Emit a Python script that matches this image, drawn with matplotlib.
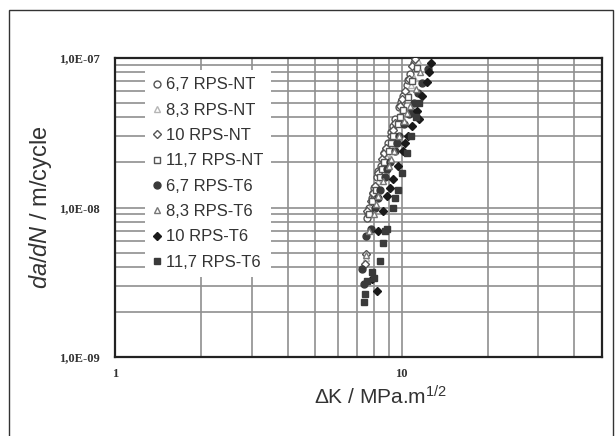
import matplotlib
matplotlib.use("Agg")
import matplotlib.pyplot as plt
from matplotlib.patches import Rectangle
from matplotlib.ticker import FixedLocator, LogLocator, NullFormatter, FixedFormatter

plt.rcParams['font.family'] = ['Liberation Sans', 'DejaVu Sans']
plt.rcParams['mathtext.fontset'] = 'custom'
plt.rcParams['mathtext.rm'] = 'Liberation Sans'
plt.rcParams['mathtext.it'] = 'Liberation Sans:italic'

# Data (delta K in MPa.m^1/2, da/dN in m/cycle)
nt67_dk = [7.55, 7.65, 7.7, 7.85, 7.95, 8.0, 8.2, 8.3, 8.45, 8.7, 8.8, 8.95, 9.2, 9.35, 9.5,
           9.8, 9.95, 10.1, 10.4, 10.55, 10.7, 11.0]
nt67_da = [8.5e-9, 9.2e-9, 1.0e-8, 1.15e-8, 1.25e-8, 1.35e-8, 1.6e-8, 1.75e-8, 1.9e-8, 2.3e-8,
           2.45e-8, 2.7e-8, 3.2e-8, 3.5e-8, 3.9e-8, 4.7e-8, 5.1e-8, 5.6e-8, 6.6e-8, 7.1e-8,
           7.8e-8, 9.2e-8]

nt83_dk = [7.5, 7.75, 7.9, 8.0, 8.3, 8.45, 8.6, 8.9, 9.1, 9.3, 9.7, 9.9, 10.1, 10.5, 10.8,
           11.0, 11.4]
nt83_da = [4.6e-9, 9.0e-9, 1.05e-8, 1.2e-8, 1.5e-8, 1.65e-8, 1.85e-8, 2.3e-8, 2.6e-8, 2.9e-8,
           3.7e-8, 4.2e-8, 4.7e-8, 5.8e-8, 6.6e-8, 7.4e-8, 9.5e-8]

nt10_dk = [7.45, 7.5, 7.6, 7.8, 7.95, 8.05, 8.3, 8.55, 8.7, 8.85, 9.15, 9.3, 9.5, 9.9, 10.05,
           10.25, 10.6, 10.9, 11.1]
nt10_da = [4.2e-9, 4.9e-9, 9.5e-9, 1.1e-8, 1.25e-8, 1.4e-8, 1.7e-8, 2.1e-8, 2.3e-8, 2.5e-8,
           3.0e-8, 3.3e-8, 3.7e-8, 4.8e-8, 5.3e-8, 6.0e-8, 7.2e-8, 8.8e-8, 9.8e-8]

nt117_dk = [7.7, 7.9, 8.15, 8.4, 8.55, 8.7, 9.0, 9.2, 9.35, 9.7, 9.9, 10.1, 10.5, 10.9, 11.3]
nt117_da = [9.0e-9, 1.1e-8, 1.3e-8, 1.6e-8, 1.8e-8, 2.0e-8, 2.4e-8, 2.7e-8, 3.0e-8, 3.6e-8,
            4.0e-8, 4.5e-8, 5.5e-8, 7.0e-8, 8.6e-8]

t67_dk = [7.3, 7.4, 7.5, 7.8, 8.1, 8.25, 8.4, 8.75, 8.9, 9.1, 9.45, 9.6, 9.8, 10.2, 10.6,
          10.8, 11.0, 11.4, 11.8, 12.4]
t67_da = [3.9e-9, 3.1e-9, 6.4e-9, 7.2e-9, 1.0e-8, 1.15e-8, 1.3e-8, 1.6e-8, 1.8e-8, 2.0e-8,
          2.4e-8, 2.7e-8, 3.0e-8, 3.6e-8, 4.2e-8, 4.4e-8, 5.0e-8, 5.8e-8, 6.8e-8, 8.4e-8]

t83_dk = [7.5, 7.7, 8.0, 8.15, 8.3, 8.6, 9.0, 9.2, 9.4, 9.8, 10.2, 10.45, 10.7, 11.2, 11.6]
t83_da = [4.8e-9, 7.0e-9, 9.0e-9, 1.05e-8, 1.2e-8, 1.5e-8, 1.9e-8, 2.1e-8, 2.4e-8, 3.0e-8,
          3.8e-8, 4.3e-8, 4.8e-8, 6.2e-8, 8.0e-8]

t10_dk = [8.2, 7.9, 8.3, 8.6, 8.9, 9.1, 9.3, 9.7, 10.1, 10.3, 10.5, 10.9, 11.3, 11.5, 11.8,
          12.3, 12.5, 12.7]
t10_da = [2.75e-9, 3.3e-9, 7.0e-9, 9.5e-9, 1.2e-8, 1.35e-8, 1.55e-8, 1.9e-8, 2.4e-8, 2.7e-8,
          3.0e-8, 3.5e-8, 4.4e-8, 3.9e-8, 5.6e-8, 6.9e-8, 8.0e-8, 9.3e-8]

t117_dk = [7.4, 7.48, 7.6, 7.9, 8.0, 8.4, 8.58, 8.75, 8.9, 9.3, 9.5, 9.7, 10.0, 10.4, 10.8,
           11.2, 11.5]
t117_da = [2.33e-9, 2.63e-9, 3.2e-9, 3.7e-9, 3.4e-9, 4.4e-9, 5.8e-9, 7.0e-9, 7.2e-9, 1.0e-8,
           1.15e-8, 1.3e-8, 1.7e-8, 2.3e-8, 3.0e-8, 4.0e-8, 5.0e-8]

labels = ["6,7 RPS-NT", "8,3 RPS-NT", "10 RPS-NT", "11,7 RPS-NT",
          "6,7 RPS-T6", "8,3 RPS-T6", "10 RPS-T6", "11,7 RPS-T6"]
y_tick_labels = ["1,0E-09", "1,0E-08", "1,0E-07"]
x_tick_labels = ["1", "10"]

fig = plt.figure(figsize=(6.15, 4.36), dpi=100)
fig.patch.set_facecolor("white")
fig.patches.append(Rectangle((9 / 615, -0.01), (613 - 9) / 615, 1 - 10 / 436 + 0.01,
                             transform=fig.transFigure, fill=False, edgecolor="#333333",
                             linewidth=1.0))

ax = fig.add_axes([115 / 615, 1 - 357 / 436, (602 - 115) / 615, (357 - 58) / 436])
ax.set_xscale("log")
ax.set_yscale("log")
ax.set_xlim(1, 50)
ax.set_ylim(1e-9, 1e-7)

ms = 5.0
styles = [
    dict(marker="o", mfc="white", mec="#555555"),
    dict(marker="^", mfc="white", mec="#b5b5b5"),
    dict(marker="D", mfc="white", mec="#555555", ms=ms * 0.85),
    dict(marker="s", mfc="white", mec="#555555"),
    dict(marker="o", mfc="#3a3a3a", mec="#3a3a3a"),
    dict(marker="^", mfc="white", mec="#777777"),
    dict(marker="D", mfc="#1a1a1a", mec="#1a1a1a", ms=ms * 0.85),
    dict(marker="s", mfc="#3a3a3a", mec="#3a3a3a"),
]
series = [(nt67_dk, nt67_da), (nt83_dk, nt83_da), (nt10_dk, nt10_da), (nt117_dk, nt117_da),
          (t67_dk, t67_da), (t83_dk, t83_da), (t10_dk, t10_da), (t117_dk, t117_da)]

for (dk, da), lab, st in zip(series, labels, styles):
    st = dict(st)
    size = st.pop("ms", ms)
    ax.plot(dk, da, linestyle="none", ms=size, mew=1.0, label=lab, zorder=3, **st)

# grid
ax.xaxis.set_major_locator(FixedLocator([1, 10]))
ax.xaxis.set_major_formatter(FixedFormatter(x_tick_labels))
ax.xaxis.set_minor_locator(LogLocator(base=10, subs=range(2, 10)))
ax.xaxis.set_minor_formatter(NullFormatter())
ax.yaxis.set_major_locator(FixedLocator([1e-9, 1e-8, 1e-7]))
ax.yaxis.set_major_formatter(FixedFormatter(y_tick_labels))
ax.yaxis.set_minor_locator(LogLocator(base=10, subs=range(2, 10)))
ax.yaxis.set_minor_formatter(NullFormatter())
ax.grid(True, which="both", color="#8f8f8f", linewidth=1.2)
ax.set_axisbelow(True)
ax.tick_params(which="both", length=0)
ax.tick_params(axis="y", pad=11)
ax.tick_params(axis="x", pad=8)
for lab in ax.get_xticklabels() + ax.get_yticklabels():
    lab.set_fontfamily("Liberation Serif")
    lab.set_fontweight("bold")
    lab.set_fontsize(9)
    lab.set_color("#333333")
for sp in ax.spines.values():
    sp.set_linewidth(1.6)
    sp.set_color("#222222")

ax.set_ylabel(r"$\mathit{da/dN}$ / m/cycle", fontsize=17, color="#333333")
ax.yaxis.set_label_coords(-0.125, 0.5)
ax.set_xlabel(r"ΔK / MPa.m$^{1/2}$", fontsize=15, color="#333333")
ax.xaxis.set_label_coords(0.546, -0.095)

leg = ax.legend(loc="upper left", bbox_to_anchor=(0.062, 0.96), fontsize=12,
                frameon=True, fancybox=False, framealpha=1, facecolor="white",
                edgecolor="none", handlelength=0.5, handletextpad=0.3,
                labelspacing=0.62, borderpad=0.45, borderaxespad=0)
for t in leg.get_texts():
    t.set_color("#333333")

fig.savefig("out.png", dpi=100)
